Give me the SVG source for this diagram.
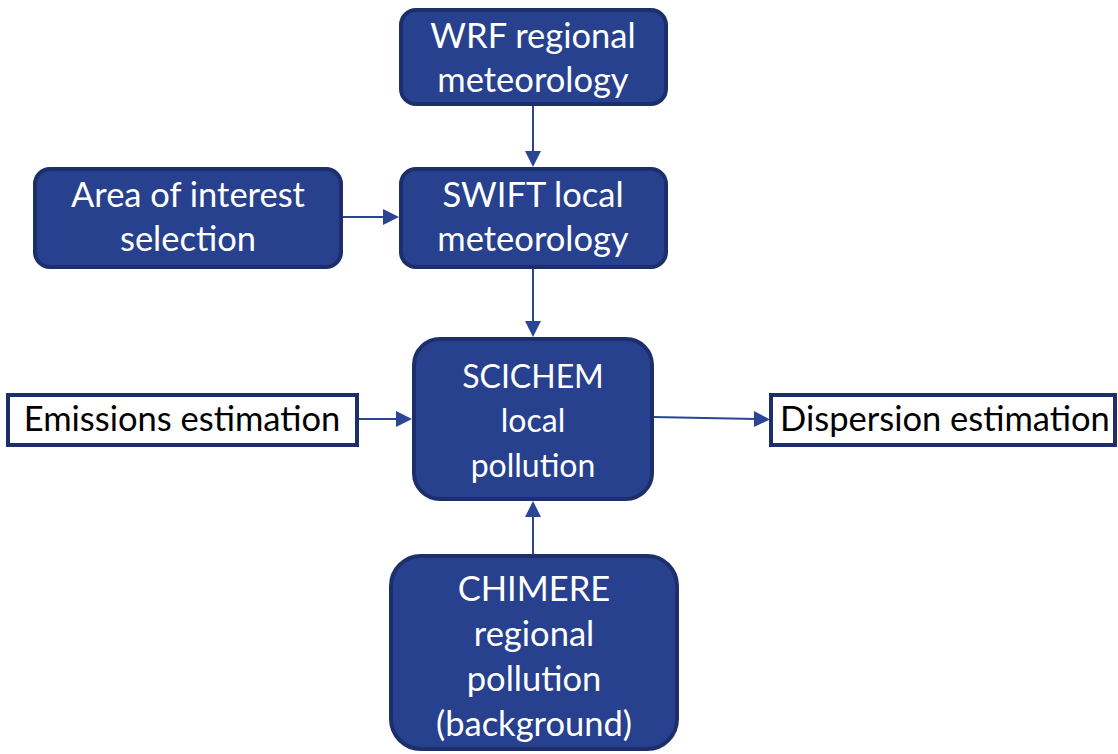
<svg xmlns="http://www.w3.org/2000/svg" width="1118" height="754" viewBox="0 0 1118 754">
<style>
.box{fill:#27418F;stroke:#1D2F6A;stroke-width:4}
.wbox{fill:#ffffff;stroke:#1D2F6A;stroke-width:4}
.t{font-family:Lato,"Open Sans",sans-serif;font-size:34.5px;fill:#ffffff;text-anchor:middle}
.ts{font-family:Lato,"Open Sans",sans-serif;font-size:32px;fill:#ffffff;text-anchor:middle}
.tb{font-family:Lato,"Open Sans",sans-serif;font-size:34.5px;fill:#000000;text-anchor:middle}
.ln{stroke:#2B4594;stroke-width:2;fill:none}
.hd{fill:#2B4594}
</style>
<rect width="1118" height="754" fill="#ffffff"/>
<g id="connectors">
<line class="ln" x1="533" y1="105" x2="533" y2="152"/>
<polygon class="hd" points="525,151 541,151 533,167"/>
<line class="ln" x1="342" y1="217" x2="385" y2="217" stroke-width="2.5"/>
<polygon class="hd" points="383,209 383,225 399,217"/>
<line class="ln" x1="533" y1="268" x2="533" y2="322"/>
<polygon class="hd" points="525,321 541,321 533,337"/>
<line class="ln" x1="358" y1="419" x2="398" y2="419" stroke-width="2.5"/>
<polygon class="hd" points="396,411 396,427 412,419"/>
<line class="ln" x1="653" y1="417" x2="756" y2="419"/>
<polygon class="hd" points="754,411 754,427 770,419.5"/>
<line class="ln" x1="533" y1="555" x2="533" y2="516"/>
<polygon class="hd" points="525,517 541,517 533,501"/>
</g>
<g id="wrf">
<rect class="box" x="401" y="10" width="265" height="94" rx="15"/>
<text class="t" x="533" y="48">WRF regional</text>
<text class="t" x="533" y="92">meteorology</text>
</g>
<g id="area">
<rect class="box" x="35" y="169" width="306" height="98" rx="15"/>
<text class="t" x="188" y="207">Area of interest</text>
<text class="t" x="188" y="251">selection</text>
</g>
<g id="swift">
<rect class="box" x="401" y="169" width="265" height="98" rx="15"/>
<text class="t" x="533" y="207">SWIFT local</text>
<text class="t" x="533" y="251">meteorology</text>
</g>
<g id="scichem">
<rect class="box" x="414" y="339" width="238" height="160" rx="26"/>
<text class="ts" x="533" y="388">SCICHEM</text>
<text class="ts" x="533" y="432">local</text>
<text class="ts" x="533" y="477">pollution</text>
</g>
<g id="emissions">
<rect class="wbox" x="8" y="395" width="349" height="50"/>
<text class="tb" x="182" y="431">Emissions estimation</text>
</g>
<g id="dispersion">
<rect class="wbox" x="771" y="395" width="344" height="50"/>
<text class="tb" x="945" y="431">Dispersion estimation</text>
</g>
<g id="chimere">
<rect class="box" x="391" y="556" width="286" height="193" rx="30"/>
<text class="t" x="534" y="601">CHIMERE</text>
<text class="t" x="534" y="646">regional</text>
<text class="t" x="534" y="691">pollution</text>
<text class="t" x="534" y="736">(background)</text>
</g>
</svg>
